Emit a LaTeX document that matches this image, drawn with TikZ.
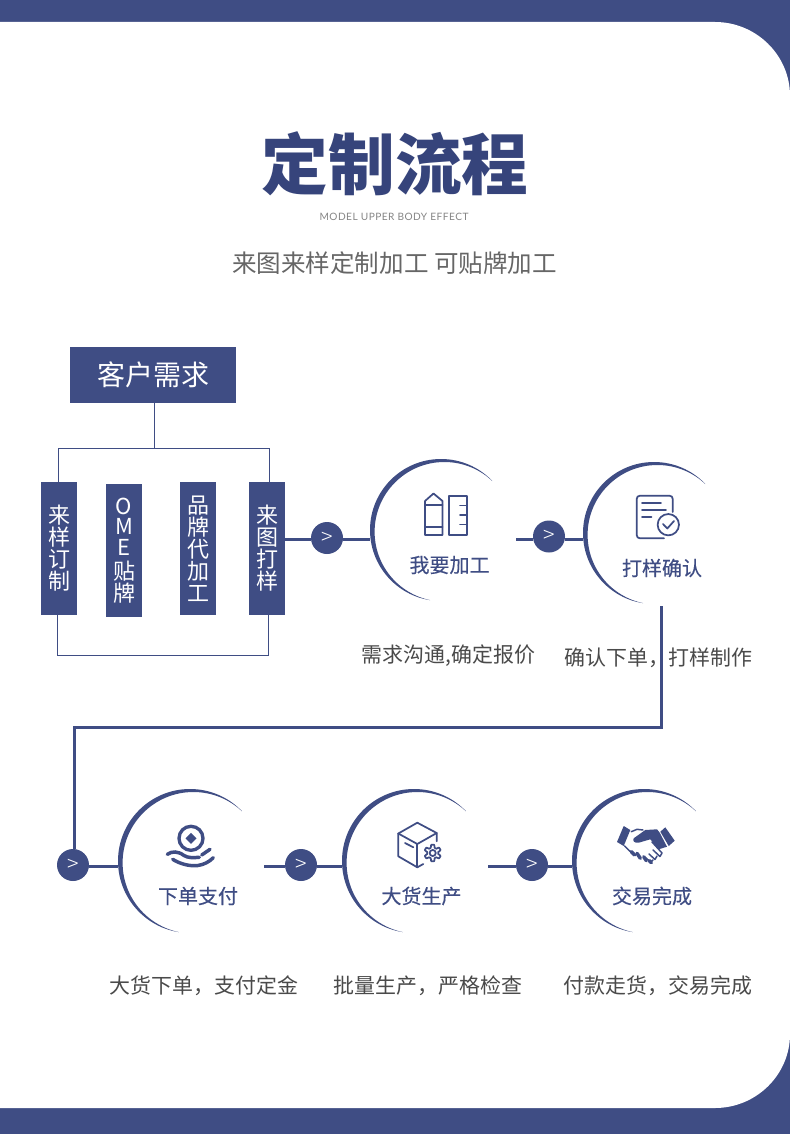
\documentclass[tikz,border=0pt]{standalone}
\usepackage{fontspec}
\setmainfont{Noto Sans CJK SC}
\newfontfamily\latinf[LetterSpace=4.6]{Lato}
\newfontfamily\cjkl{Noto Sans CJK SC Light}
\newfontfamily\cjks[FakeBold=0.3]{Noto Sans CJK SC}
\newcommand{\wcomma}{\symbol{"FF0C}}
\definecolor{navy}{HTML}{3F4D84}
\definecolor{titlec}{HTML}{36447B}
\definecolor{capc}{HTML}{4A4A4A}
\definecolor{subc}{HTML}{666666}
\tikzset{
  hbox/.style={fill=navy,text=white,inner sep=0pt,outer sep=0pt,minimum width=124.5pt,minimum height=42pt,font=\fontsize{21}{21}\selectfont},
  vbox/.style={fill=navy,text=white,inner sep=0pt,outer sep=0pt,minimum width=27pt,minimum height=99.75pt,align=center,font=\fontsize{16.5}{16.5}\selectfont},
  thin link/.style={draw=navy,line width=0.75pt},
  flow/.style={draw=navy,line width=2.25pt},
  badge/.style={circle,fill=navy,text=white,inner sep=0pt,outer sep=0pt,minimum size=24pt,font=\cjkl\fontsize{16}{16}\selectfont},
  steplabel/.style={text=navy,inner sep=0pt,font=\cjks\fontsize{15}{15}\selectfont},
  caption/.style={text=capc,inner sep=0pt,font=\fontsize{15.7}{15.7}\selectfont},
  icon/.style={draw=navy,line width=1.3pt,line join=round,line cap=round},
  iconbar/.style={draw=navy,line width=2.6pt,line cap=round},
  iconfine/.style={draw=navy,line width=1.1pt,line join=round,line cap=round},
}
\newcommand{\crescent}[4]{%name,x,y,radius px
  \node[circle,inner sep=0pt,outer sep=0pt,minimum size=#4*1.5pt] (#1) at (#2,#3) {};
  \begin{scope}
    \clip (#2+0.72*#4,#3-0.69*#4) -- (#2-0.156*#4,#3+0.988*#4) -- (#2-0.156*#4,#3+1.3*#4) -- (#2-1.3*#4,#3+1.3*#4) -- (#2-1.3*#4,#3-1.3*#4) -- (#2+0.72*#4,#3-1.3*#4) -- cycle;
    \clip (#2,#3) circle [radius=#4*0.75pt];
    \fill[navy,even odd rule] (#2,#3) circle [radius=#4*0.75pt+1pt] (#2+3.4,#3+1.8) circle [radius=#4*0.75pt-0.9pt];
  \end{scope}}
\begin{document}
\begin{tikzpicture}[x=0.75pt,y=-0.75pt]
\useasboundingbox (0,0) rectangle (790,1134);
\fill[navy] (0,0) rectangle (790,1134);
\fill[white] (0,22) -- (715,22) .. controls (756,22) and (790,55) .. (790,96) -- (790,1034) .. controls (790,1075) and (756,1108) .. (715,1108) -- (0,1108) -- cycle;

\node[text=titlec,inner sep=0pt,font=\fontsize{50}{50}\bfseries\selectfont] (title) at (395,164) {定制流程};
\node[text=subc!80,inner sep=0pt,font=\latinf\fontsize{7.6}{8}\selectfont] (en) at (394,217) {MODEL UPPER BODY EFFECT};
\node[text=subc,inner sep=0pt,font=\fontsize{18.4}{19}\selectfont] (sub) at (394.5,263) {来图来样定制加工 可贴牌加工};

% tree
\node[hbox] (need) at (153,375) {客户需求};
\node[vbox] (A) at (59,548.5) {来\\样\\订\\制};
\node[vbox] (B) at (124,550.5) {O\\[-1pt]M\\[-1pt]E\\[1.5pt]贴\\牌};
\node[vbox] (C) at (198,548.5) {品\\牌\\代\\加\\工};
\node[vbox] (D) at (267,548.5) {来\\图\\打\\样};
\coordinate (ct) at (154.5,448.5);
\coordinate (tl) at (58.5,448.5);
\coordinate (tr) at (269.5,448.5);
\coordinate (bl) at (57.5,655.5);
\coordinate (br) at (268.5,655.5);
\draw[thin link] (ct |- need.south) -- (ct);
\draw[thin link] (tl |- A.north) -- (tl) -- (tr) -- (tr |- D.north);
\draw[thin link] (bl |- A.south) -- (bl) -- (br) -- (br |- D.south);

% circles
\crescent{c1}{441}{530}{71}
\crescent{c2}{654}{533}{71}
\crescent{c3}{190}{861}{72}
\crescent{c4}{414}{861}{72}
\crescent{c5}{644}{861}{72}

% badges
\node[badge] (b1) at (327,538) {>};
\node[badge] (b2) at (549,536.5) {>};
\node[badge] (b3) at (73,865) {>};
\node[badge] (b4) at (301,865) {>};
\node[badge] (b5) at (532,865) {>};

% connectors
\coordinate (s1) at (285,539.5);
\coordinate (s2) at (516,539.5);
\coordinate (s3) at (118,866.5);
\coordinate (s4) at (264,866.5);
\coordinate (s5) at (488,866.5);
\coordinate (v0) at (661.5,606);
\coordinate (v1) at (661.5,727.5);
\coordinate (v2) at (74.5,727.5);
\draw[flow] (D.east |- s1) -- (b1.west |- s1);
\draw[flow] (b1.east |- s1) -- (c1.west |- s1);
\draw[flow] (s2) -- (b2.west |- s2);
\draw[flow] (b2.east |- s2) -- (c2.west |- s2);
\draw[flow] (b3.east |- s3) -- (c3.west |- s3);
\draw[flow] (s4) -- (b4.west |- s4);
\draw[flow] (b4.east |- s4) -- (c4.west |- s4);
\draw[flow] (s5) -- (b5.west |- s5);
\draw[flow] (b5.east |- s5) -- (c5.west |- s5);
\draw[flow] (v0) -- (v1) -- (v2) -- (v2 |- b3.north);

% step labels
\node[steplabel] (l1) at (449.5,565) {我要加工};
\node[steplabel] (l2) at (662,568) {打样确认};
\node[steplabel] (l3) at (198,896) {下单支付};
\node[steplabel] (l4) at (421.5,896) {大货生产};
\node[steplabel] (l5) at (652,896) {交易完成};

% captions
\node[caption] (k1) at (448.5,656) {需求沟通,确定报价};
\node[caption] (k2) at (658.5,658) {确认下单\wcomma 打样制作};
\node[caption] (k3) at (204,986) {大货下单\wcomma 支付定金};
\node[caption] (k4) at (428,986) {批量生产\wcomma 严格检查};
\node[caption] (k5) at (658,986) {付款走货\wcomma 交易完成};

% icon 1: pencil and ruler
\draw[icon] (425,501) -- (433.5,493.5) -- (442.5,501) -- (442.5,535) -- (425,535) -- cycle;
\draw[icon] (425,505) -- (442.5,505) (425,527) -- (442.5,527);
\draw[icon] (449,496) rectangle (467,535);
\draw[icon] (467,505.5) -- (460,505.5) (467,515) -- (460,515) (467,524.5) -- (460,524.5);

% icon 2: document with check
\draw[icon] (664,538.3) -- (640,538.3) .. controls (638,538.3) and (636.7,537) .. (636.7,535) -- (636.7,499) .. controls (636.7,497) and (638,495.7) .. (640,495.7) -- (669.5,495.7) .. controls (671.5,495.7) and (672.7,497) .. (672.7,499) -- (672.7,512);
\draw[icon] (642,503.3) -- (661,503.3) (642,510.3) -- (666,510.3) (642,517.3) -- (651.5,517.3);
\draw[icon] (668.3,524.7) circle [radius=8pt];
\draw[icon] (663,524) -- (667.3,528.5) -- (674,521);

% icon 3: coin on hands
\draw[navy,line width=2.5pt] (191,838.3) circle [radius=9pt];
\fill[navy] (191,832.8) -- (196.5,838.3) -- (191,843.8) -- (185.5,838.3) -- cycle;
\draw[iconbar] (167.3,854.3) .. controls (172,851) and (178,851) .. (184,855.5) .. controls (188,858) and (193,857.8) .. (199.3,857.3);
\draw[iconbar] (201.7,855) -- (210,849.3);
\draw[iconbar] (172.7,859.3) .. controls (180,864) and (190,866.5) .. (198,865.5) .. controls (204,864.5) and (209,862) .. (213.3,857.7);

% icon 4: box with gear
\draw[icon] (398.3,833.5) -- (417.3,822.7) -- (436.7,833) -- (436.7,841.3);
\draw[icon] (398.3,833.5) -- (398.3,856.3) -- (417.3,867.3) -- (423.3,864);
\draw[icon] (398.3,833.5) -- (417.3,844) -- (436.7,833);
\draw[icon] (417.3,844) -- (417.3,867.3);
\draw[icon] (405,843) -- (413.3,847.3);
\draw[icon,fill=white,smooth,samples=121,domain=0:360] plot ({432.7+(6.9+1.4*max(-1,min(1,-2*cos(6*\x))))*cos(\x)},{853+(6.9+1.4*max(-1,min(1,-2*cos(6*\x))))*sin(\x)}) -- cycle;
\draw[icon] (432.7,853) circle [radius=2.3pt];

% icon 5: handshake
\fill[navy] (623.7,826) -- (630.3,830) -- (623.7,846) -- (617,842) -- cycle;
\fill[navy] (665.3,827.3) -- (674.7,840.7) -- (668.7,846) -- (660.3,831.7) -- cycle;
\fill[navy] (633.7,838.3) -- (645.3,830) -- (657,829.3) -- (659.7,832.7) -- (667,846.7) -- (658.7,849.3) -- (650.3,839.3) -- (638.7,842.7) .. controls (635,843.5) and (632,841) .. (633.7,838.3) -- cycle;
\draw[iconfine] (631.3,831.7) -- (637,829.3) -- (643,830);
\draw[iconfine] (624.7,846) -- (630.3,851.7);
\draw[iconfine] (652,842) -- (662,853) -- (660,856.5) -- (653,850);
\draw[iconfine] (657,856) -- (655,859.5) -- (649,854);
\draw[iconfine] (653,860) -- (650.5,862) -- (646,858);
\draw[iconbar] (631.3,851.7) -- (634.7,855);
\draw[iconbar] (637,853.3) -- (640.3,858.3);
\draw[iconbar] (643.7,856.7) -- (646.3,860.7);
\draw[iconbar] (649.3,860.7) -- (651.3,862.7);
\end{tikzpicture}
\end{document}
